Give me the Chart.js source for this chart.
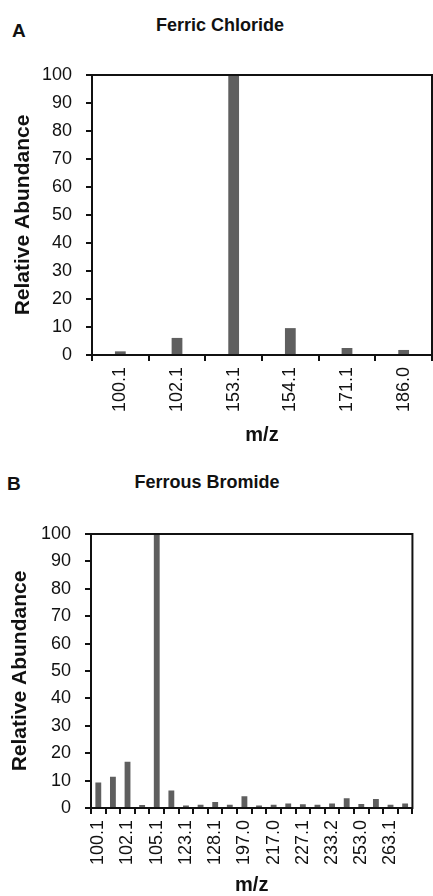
<!DOCTYPE html>
<html>
<head>
<meta charset="utf-8">
<script src="https://cdn.jsdelivr.net/npm/chart.js@4"></script>
<style>
  body { margin: 0; background: #fff; width: 433px; height: 896px; position: relative; overflow: hidden; font-family: "Liberation Sans", Arial, sans-serif; }
  canvas { position: absolute; left: 0; }
  .lbl { position: absolute; font-weight: bold; color: #111; white-space: nowrap; line-height: 1; }
</style>
</head>
<body>
<div class="lbl" style="left:12px; top:21px; font-size:19px;">A</div>
<div class="lbl" style="left:0; width:440px; text-align:center; top:16px; font-size:18px;">Ferric Chloride</div>
<canvas id="chartA" width="433" height="445" style="top:0"></canvas>

<div class="lbl" style="left:7px; top:474px; font-size:19px;">B</div>
<div class="lbl" style="left:0; width:414px; text-align:center; top:473px; font-size:18px;">Ferrous Bromide</div>
<canvas id="chartB" width="433" height="451" style="top:445px"></canvas>

<script>
// Ferric chloride spectrum
const labelsA = ['100.1', '102.1', '153.1', '154.1', '171.1', '186.0'];
const valuesA = [1.3, 6.1, 100, 9.6, 2.5, 1.8];

// Ferrous bromide spectrum (only every other m/z is labelled in the figure)
const labelsB = ['100.1', '', '102.1', '', '105.1', '', '123.1', '', '128.1', '', '197.0', '',
                 '217.0', '', '227.1', '', '233.2', '', '253.0', '', '263.1', ''];
const valuesB = [9.3, 11.4, 16.9, 1.1, 100, 6.4, 0.9, 1.2, 2.2, 1.2, 4.3, 0.9,
                 1.2, 1.6, 1.4, 1.2, 1.6, 3.6, 1.5, 3.3, 1.2, 1.6];

const yMin = 0;
const yMax = 100;
const yStep = 10;

const barColor = '#5f5f5f';
const ink = '#111';
const font = 'Liberation Sans';

// box round the plot area
const frame = {
  id: 'frame',
  afterDraw(chart) {
    const { ctx, chartArea: a } = chart;
    ctx.save();
    ctx.strokeStyle = ink;
    ctx.lineWidth = 2;
    ctx.strokeRect(a.left, a.top, a.right - a.left, a.bottom - a.top);
    ctx.restore();
  }
};

function makeChart(id, labels, values, o) {
  return new Chart(document.getElementById(id), {
    type: 'bar',
    data: {
      labels: labels,
      datasets: [{
        data: values,
        backgroundColor: barColor,
        barPercentage: o.barPct,
        categoryPercentage: 1
      }]
    },
    options: {
      responsive: false,
      animation: false,
      layout: { padding: { top: o.top, right: o.right, left: 0, bottom: 0 } },
      plugins: { legend: { display: false }, tooltip: { enabled: false } },
      scales: {
        x: {
          grid: { offset: true, drawOnChartArea: false, drawTicks: true, tickLength: 6, color: ink, lineWidth: 2 },
          border: { display: true, color: ink, width: 2 },
          ticks: { autoSkip: false, maxRotation: 90, minRotation: 90, padding: 6, color: ink, font: { family: font, size: 18 } },
          title: { display: true, text: 'm/z', color: ink, font: { family: font, size: 20, weight: 'bold' }, padding: { top: 0, bottom: o.xTitlePad } },
          afterFit: s => { s.height = o.xHeight; }
        },
        y: {
          min: yMin,
          max: yMax,
          grid: { drawOnChartArea: false, drawTicks: true, tickLength: 6, color: ink, lineWidth: 2 },
          border: { display: true, color: ink, width: 2 },
          ticks: { stepSize: yStep, padding: 14, color: ink, font: { family: font, size: 18 } },
          title: { display: true, text: 'Relative Abundance', color: ink, font: { family: font, size: 21, weight: 'bold' }, padding: { top: o.yTitlePad, bottom: 0 } },
          afterFit: s => { s.width = o.yWidth; }
        }
      }
    },
    plugins: [frame]
  });
}

makeChart('chartA', labelsA, valuesA, { top: 75, right: 1, yWidth: 92, xHeight: 90, barPct: 0.19, yTitlePad: 11, xTitlePad: -2 });
makeChart('chartB', labelsB, valuesB, { top: 89, right: 12, yWidth: 91, xHeight: 88, barPct: 0.4, yTitlePad: 8, xTitlePad: -1 });
</script>
</body>
</html>
